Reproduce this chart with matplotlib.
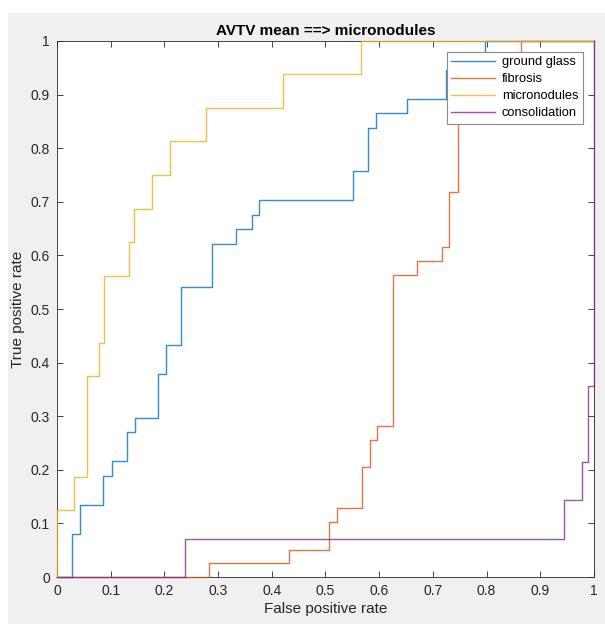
import matplotlib
matplotlib.use('Agg')
import matplotlib.pyplot as plt
from matplotlib.patches import Rectangle

plt.rcParams['font.family'] = ['Liberation Sans', 'DejaVu Sans']

# ROC curves (fpr where the step rises, tpr after the rise)
gg_fpr = [0, 0.0285, 0.0434, 0.0863, 0.1018, 0.1304, 0.1453, 0.188, 0.2024, 0.2315,
          0.289, 0.3327, 0.3625, 0.3768, 0.5506, 0.5797, 0.594, 0.6518, 0.7238, 0.77, 0.797, 1]
gg_tpr = [0, 0.081, 0.135, 0.189, 0.216, 0.270, 0.297, 0.378, 0.432, 0.5405,
          0.622, 0.6486, 0.676, 0.703, 0.757, 0.838, 0.865, 0.892, 0.946, 0.973, 1.0, 1.0]

fib_fpr = [0, 0.2836, 0.432, 0.507, 0.522, 0.5674, 0.5823, 0.5965, 0.6263, 0.671,
           0.7164, 0.7306, 0.746, 0.865, 1]
fib_tpr = [0, 0.0256, 0.0513, 0.1026, 0.1282, 0.205, 0.256, 0.282, 0.564, 0.590,
           0.615, 0.718, 0.949, 1.0, 1.0]

mic_fpr = [0, 0, 0.032, 0.055, 0.078, 0.088, 0.1335, 0.144, 0.1775, 0.2104, 0.2775,
           0.4215, 0.5667, 1]
mic_tpr = [0, 0.125, 0.1875, 0.375, 0.4375, 0.5625, 0.625, 0.6875, 0.75, 0.8125, 0.875,
           0.9375, 1.0, 1.0]

con_fpr = [0, 0.2384, 0.9447, 0.9777, 0.989, 0.9994, 1]
con_tpr = [0, 0.0714, 0.1429, 0.2143, 0.357, 1.0, 1.0]

names = ['ground glass', 'fibrosis', 'micronodules', 'consolidation']
colors = ['#0072BD', '#D95319', '#EDB120', '#7E2F8E']

fig = plt.figure(figsize=(6.05, 6.24), dpi=100, facecolor='white')
# grey window area (white strip at top and left like the screenshot)
fig.patches.append(Rectangle((8 / 605, 0), 1, 1 - 13 / 624, transform=fig.transFigure,
                             facecolor='#F0F0F0', edgecolor='none', zorder=-10))
ax = fig.add_axes([0.0942, 0.0753, 0.8876, 0.859])

curves = [(gg_fpr, gg_tpr), (fib_fpr, fib_tpr), (mic_fpr, mic_tpr), (con_fpr, con_tpr)]
for (x, y), name, c in zip(curves, names, colors):
    ax.step(x, y, where='post', color=c, lw=1.0, alpha=0.8, label=name,
            clip_on=False, zorder=3)

ax.set_xlim(0, 1)
ax.set_ylim(0, 1)
ticks = [i / 10 for i in range(11)]
labels = ['0'] + ['%.1f' % t for t in ticks[1:-1]] + ['1']
ax.set_xticks(ticks)
ax.set_xticklabels(labels)
ax.set_yticks(ticks)
ax.set_yticklabels(labels)
ax.tick_params(direction='in', top=True, right=True, length=4, width=0.6,
               labelsize=10, colors='#262626', pad=5)
for s in ax.spines.values():
    s.set_linewidth(0.6)
    s.set_color('#262626')

ax.set_title('AVTV mean ==> micronodules', fontsize=11, fontweight='bold', pad=4)
ax.set_xlabel('False positive rate', fontsize=11, color='#262626', labelpad=3)
ax.set_ylabel('True positive rate', fontsize=11, color='#262626', labelpad=4)

leg = ax.legend(loc='upper right', bbox_to_anchor=(0.979, 0.98), fontsize=9.3,
                fancybox=False, framealpha=1, edgecolor='#8a8a8a', borderaxespad=0,
                handlelength=3.4, handletextpad=0.5, labelspacing=0.38, borderpad=0.35)
leg.get_frame().set_linewidth(0.8)
leg.set_zorder(5)

fig.savefig('out.png', dpi=100, facecolor=fig.get_facecolor())
